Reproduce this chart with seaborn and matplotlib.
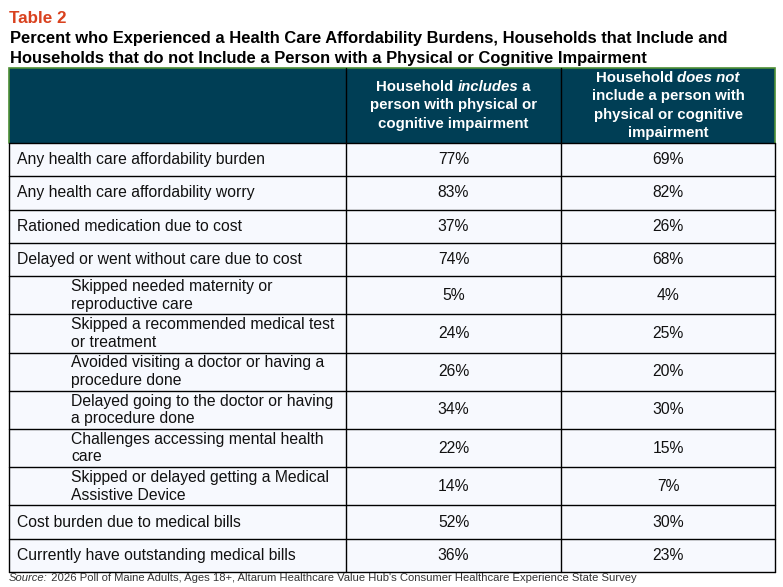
import numpy as np
import pandas as pd
import seaborn as sns
import matplotlib
matplotlib.use("Agg")
import matplotlib.pyplot as plt
from matplotlib.patches import Rectangle
from matplotlib import font_manager as fm

# ---------------- data ----------------
table_label = "Table 2"
title_lines = [
    "Percent who Experienced a Health Care Affordability Burdens, Households that Include and",
    "Households that do not Include a Person with a Physical or Cognitive Impairment",
]
categories = [
    "Any health care affordability burden",
    "Any health care affordability worry",
    "Rationed medication due to cost",
    "Delayed or went without care due to cost",
    "Skipped needed maternity or\nreproductive care",
    "Skipped a recommended medical test\nor treatment",
    "Avoided visiting a doctor or having a\nprocedure done",
    "Delayed going to the doctor or having\na procedure done",
    "Challenges accessing mental health\ncare",
    "Skipped or delayed getting a Medical\nAssistive Device",
    "Cost burden due to medical bills",
    "Currently have outstanding medical bills",
]
sub_item = [0, 0, 0, 0, 1, 1, 1, 1, 1, 1, 0, 0]
includes_pct = [77, 83, 37, 74, 5, 24, 26, 34, 22, 14, 52, 36]
not_includes_pct = [69, 82, 26, 68, 4, 25, 20, 30, 15, 7, 30, 23]
# header lines: list of (text, italic) segments per line
header_includes = [
    [("Household ", False), ("includes", True), (" a", False)],
    [("person with physical or", False)],
    [("cognitive impairment", False)],
]
header_not = [
    [("Household ", False), ("does not", True)],
    [("include a person with", False)],
    [("physical or cognitive", False)],
    [("impairment", False)],
]
source_italic = "Source:"
source_text = " 2026 Poll of Maine Adults, Ages 18+, Altarum Healthcare Value Hub's Consumer Healthcare Experience State Survey"

df = pd.DataFrame({"category": categories, "sub": sub_item,
                   "includes": includes_pct, "not_includes": not_includes_pct})

# ---------------- style ----------------
sns.set_theme(style="white")
names = {f.name for f in fm.fontManager.ttflist}
SANS = "Liberation Sans" if "Liberation Sans" in names else "DejaVu Sans"
NARROW = "Liberation Sans Narrow" if "Liberation Sans Narrow" in names else SANS
plt.rcParams["font.family"] = [SANS, "DejaVu Sans"]

W, H = 783, 587
fig = plt.figure(figsize=(W / 100, H / 100), dpi=100)
ax = fig.add_axes([0, 0, 1, 1])
ax.set_xlim(0, W)
ax.set_ylim(H, 0)
ax.axis("off")
renderer = fig.canvas.get_renderer()


def text_w(s, **kw):
    t = ax.text(0, 0, s, **kw)
    w = t.get_window_extent(renderer).width
    t.remove()
    return w


def fit_size(s, target, **kw):
    return 10 * target / text_w(s, fontsize=10, **kw)


# layout
LEFT, RIGHT = 9, 775
COL = [LEFT, 346, 561, RIGHT]
HEAD_TOP, HEAD_BOT = 68, 143
H1, H2 = 33.3, 38.2
HEAD_COLOR = "#003E55"
CELL_COLOR = "#F7F9FE"
GREEN = "#4E8F35"
TXT = "#111111"

# ---- titles ----
fs_tab = fit_size(table_label, 57, family=SANS, weight="bold")
ax.text(LEFT, 23, table_label, family=SANS, weight="bold", fontsize=fs_tab,
        color="#D9411E", va="baseline", ha="left")
fs_title = fit_size(title_lines[0], 717, family=NARROW, weight="bold")
for i, line in enumerate(title_lines):
    ax.text(LEFT + 1, 43 + 20 * i, line, family=NARROW, weight="bold",
            fontsize=fs_title, color="#000000", va="baseline", ha="left")

# ---- header ----
ax.add_patch(Rectangle((LEFT, HEAD_TOP), RIGHT - LEFT, HEAD_BOT - HEAD_TOP,
                       facecolor=HEAD_COLOR, edgecolor="none", zorder=1))
ax.plot([LEFT, LEFT, RIGHT, RIGHT], [HEAD_BOT, HEAD_TOP, HEAD_TOP, HEAD_BOT],
        color=GREEN, lw=1.2, zorder=3, solid_joinstyle="miter")
for x in COL[1:3]:
    ax.plot([x, x], [HEAD_TOP, HEAD_BOT], color="black", lw=1.0, zorder=3)

fs_head = fit_size("include a person with", 154, family=SANS, weight="bold")


def seg_line(segs, cx, cy):
    full = "".join(s for s, _ in segs)
    total = text_w(full, family=SANS, weight="bold", fontsize=fs_head)
    x0 = cx - total / 2
    prefix = ""
    ref = text_w("x", family=SANS, weight="bold", fontsize=fs_head)
    for s, it in segs:
        off = text_w(prefix + "x", family=SANS, weight="bold", fontsize=fs_head) - ref if prefix else 0
        ax.text(x0 + off, cy, s.strip() if False else s, family=SANS, weight="bold",
                style="italic" if it else "normal", fontsize=fs_head, color="white",
                ha="left", va="center", zorder=4)
        prefix += s


LS = 18.5
for hdr, (a, b) in [(header_includes, (COL[1], COL[2])), (header_not, (COL[2], COL[3]))]:
    n = len(hdr)
    cy0 = (HEAD_TOP + HEAD_BOT) / 2 - (n - 1) * LS / 2
    for i, segs in enumerate(hdr):
        seg_line(segs, (a + b) / 2, cy0 + i * LS)

# ---- body ----
fs_body = fit_size("Any health care affordability burden", 248, family=SANS)
y = HEAD_BOT
bounds = [y]
for _, r in df.iterrows():
    nlines = r["category"].count("\n") + 1
    h = H1 if nlines == 1 else H2
    ax.add_patch(Rectangle((LEFT, y), RIGHT - LEFT, h, facecolor=CELL_COLOR,
                           edgecolor="none", zorder=1))
    cy = y + h / 2
    lx = LEFT + (62 if r["sub"] else 8)
    lines = r["category"].split("\n")
    for j, ln in enumerate(lines):
        ly = cy + (j - (len(lines) - 1) / 2) * 17.5
        ax.text(lx, ly, ln, family=SANS, fontsize=fs_body, color=TXT,
                ha="left", va="center", zorder=4)
    ax.text((COL[1] + COL[2]) / 2, cy, f"{r['includes']}%", family=SANS,
            fontsize=fs_body, color=TXT, ha="center", va="center", zorder=4)
    ax.text((COL[2] + COL[3]) / 2, cy, f"{r['not_includes']}%", family=SANS,
            fontsize=fs_body, color=TXT, ha="center", va="center", zorder=4)
    y += h
    bounds.append(y)

for b in bounds:
    ax.plot([LEFT, RIGHT], [b, b], color="black", lw=1.0, zorder=3)
for x in COL:
    ax.plot([x, x], [HEAD_BOT, bounds[-1]], color="black", lw=1.0, zorder=3)

# ---- source ----
fs_src = fit_size(source_italic + source_text, 632, family=NARROW)
w_it = text_w(source_italic + "x", family=NARROW, style="italic", fontsize=fs_src) - \
    text_w("x", family=NARROW, fontsize=fs_src)
ax.text(LEFT, 578, source_italic, family=NARROW, style="italic", fontsize=fs_src,
        color="#333333", ha="left", va="center")
ax.text(LEFT + w_it, 578, source_text, family=NARROW, fontsize=fs_src,
        color="#333333", ha="left", va="center")

fig.savefig("out.png", dpi=100)
